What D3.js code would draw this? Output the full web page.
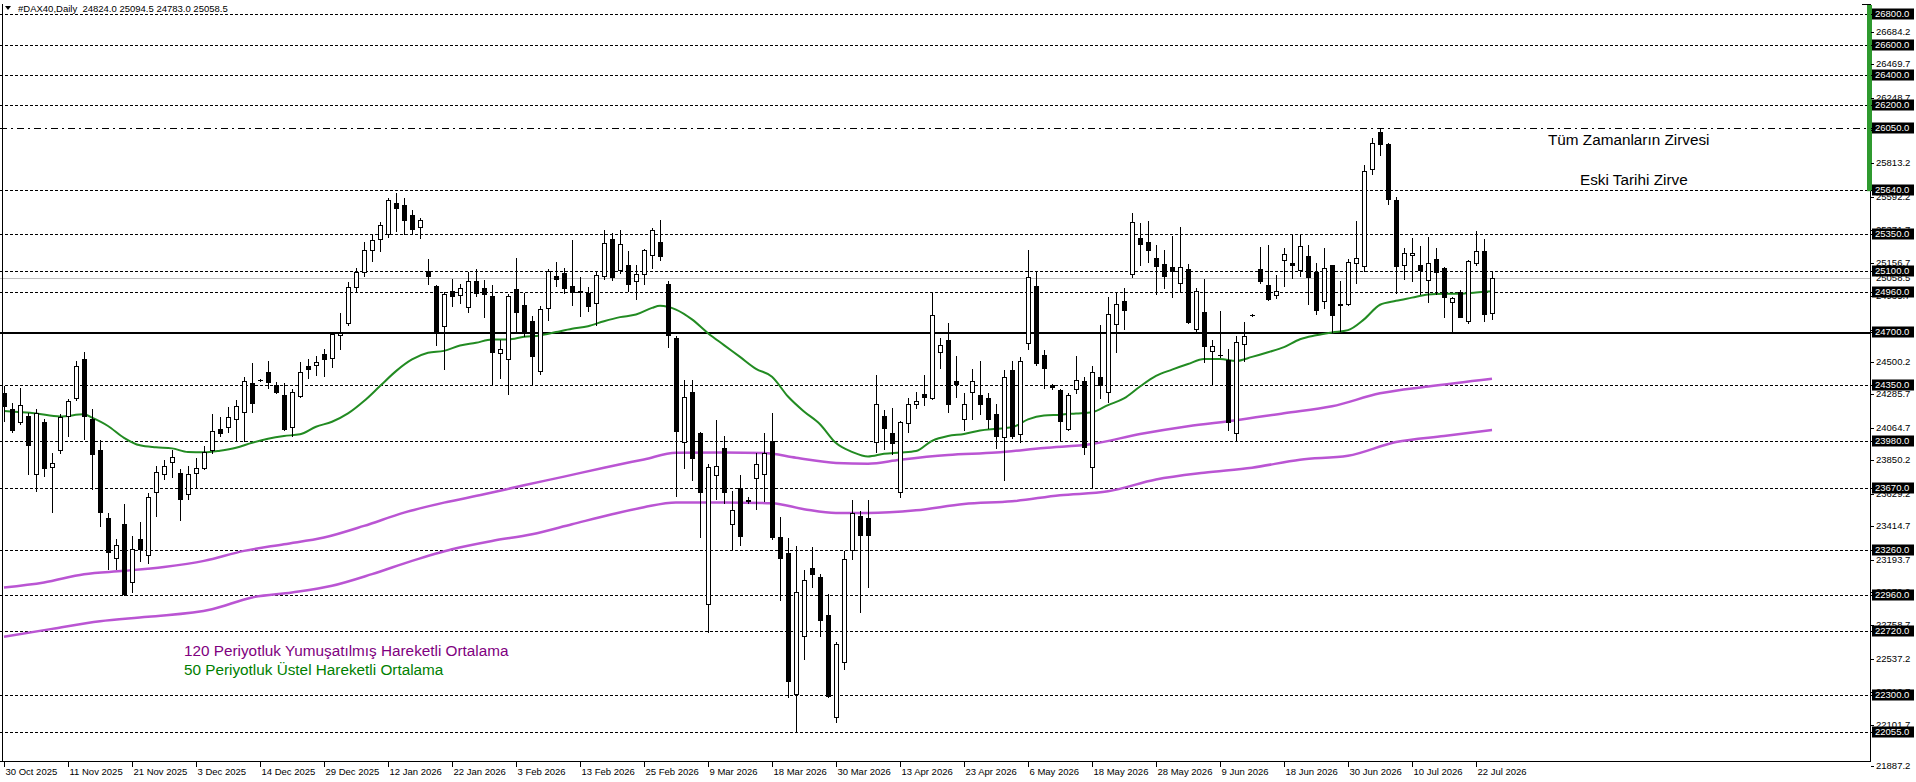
<!DOCTYPE html>
<html lang="tr">
<head>
<meta charset="UTF-8">
<title>#DAX40 Daily</title>
<style>
  html, body { margin: 0; padding: 0; background: #fff; }
  svg { display: block; font-family: "Liberation Sans", Arial, sans-serif; }
  .wick { stroke: #000; stroke-width: 1; }
  .body { stroke: #000; stroke-width: 1; shape-rendering: crispEdges; }
  .axis-txt { font-size: 9.5px; fill: #000; }
  .note { font-size: 15.3px; }
</style>
</head>
<body>
<svg width="1916" height="782"></svg>
<script src="https://d3js.org/d3.v7.min.js"></script>
<script>
// daily candles, 30 Oct 2025 .. 24 Jul 2026
const opens = [24292,24191,24103,24143,23757,24103,23808,23918,24143,24264,
24521,24121,23916,23471,23207,23427,23042,23328,23227,23641,
23762,23841,23768,23625,23768,23801,23918,24059,24072,24121,
24169,24363,24380,24436,24345,24279,24068,24275,24477,24482,
24550,24528,24676,24759,24997,25098,25244,25314,25349,25552,
25541,25475,25393,25103,25006,24737,24968,24946,24865,25039,
24988,24940,24561,24521,24984,24878,24772,24440,24860,25072,
25092,25006,24973,24957,24891,25067,25314,25109,25142,25039,
25083,25208,25296,25017,24660,23971,24304,24032,22900,23755,
23932,23430,23666,23579,23736,23762,23979,23344,23240,22306,
22690,23140,23075,22826,22149,22515,23258,23480,23467,23972,
24141,24029,23640,24094,24220,24290,24259,24565,24646,24377,
24121,24304,24285,24259,24155,24003,24450,24024,24625,25004,
24547,24345,24317,24058,24324,24377,23807,24403,24304,24751,
24905,25083,25323,25292,25187,25148,25127,25025,25114,24717,
24834,24573,24547,24513,24032,24617,24811,25114,25009,24944,
25174,25156,25109,25200,25096,24905,25140,24886,24886,25156,
25135,25775,26024,25940,25572,25140,25208,25140,25043,25182,
25122,24894,24960,24774,25156,25234,24824];
const highs = [24341,24231,24330,24165,24187,24121,23900,24154,24257,24506,
24568,24187,23984,23504,23328,23559,23350,23442,23632,23812,
23852,23916,23790,23812,23865,23945,24154,24138,24202,24248,
24400,24491,24389,24508,24369,24363,24319,24499,24521,24539,
24587,24693,24825,25028,25123,25297,25349,25424,25585,25615,
25585,25508,25453,25182,25012,24962,25050,25019,25094,25116,
25045,25012,24649,24953,25189,24957,24803,24869,25116,25160,
25123,25310,25061,24997,25101,25371,25354,25376,25233,25145,
25248,25387,25442,25034,24671,24382,24382,24037,23828,24115,
24011,23645,23754,23605,23898,24032,24162,23475,23336,23284,
23122,23279,23096,22965,22651,23253,23587,23514,23587,24416,
24181,24199,24110,24264,24304,24416,24965,24659,24756,24539,
24298,24455,24507,24298,24220,24450,24507,24534,25240,25096,
24578,24356,24324,24298,24539,24403,24476,24743,24931,24965,
24991,25488,25417,25436,25271,25240,25331,25396,25148,24991,
25051,24643,24840,24586,24670,24764,24821,25260,25271,25077,
25253,25344,25349,25271,25156,25253,25145,25036,25182,25436,
25802,25985,26050,25951,25592,25253,25323,25266,25328,25253,
25130,24931,24978,25174,25365,25313,25094.5];
const lows = [24110,24037,24088,23757,23647,23746,23509,23900,24011,24248,
23989,23658,23416,23130,23130,22958,22976,23185,23174,23482,
23729,23742,23456,23597,23669,23790,23900,24011,24037,23984,
23978,24169,24376,24330,24292,24050,24011,24270,24396,24414,
24407,24466,24583,24746,24968,25072,25167,25233,25325,25365,
25347,25354,25319,25019,24616,24451,24869,24891,24830,24940,
24797,24350,24396,24290,24693,24671,24350,24418,24781,25001,
24957,24880,24803,24836,24748,25050,25041,25090,24968,24918,
25019,25123,25178,24601,23614,23802,23723,23344,22717,23592,
23566,23258,23292,23566,23527,23579,23331,22926,22285,22055,
22534,23012,22690,22285,22120,22473,23195,22847,23009,23906,
23927,23893,23606,24037,24194,24215,24256,24460,24168,24272,
24050,24121,24155,24063,23932,23718,23998,23972,24586,24481,
24330,24324,23979,24050,24298,23893,23671,24259,24233,24565,
24717,25062,25140,25161,24947,24991,24931,24973,24756,24690,
24502,24351,24534,24050,23979,24507,24806,25025,24913,24926,
25004,25056,25070,24887,24821,24860,24698,24704,24879,25025,
25104,25742,25872,25548,24957,25051,25036,24952,24894,24952,
24795,24704,24795,24756,25140,24774,24783];
const closes = [24209,24050,24213,23949,24160,23801,23830,24134,24240,24477,
24143,23889,23509,23244,23293,22965,23262,23266,23610,23773,
23815,23874,23592,23757,23801,23905,24046,24033,24136,24209,
24374,24231,24383,24367,24303,24055,24301,24436,24455,24497,
24521,24687,24689,24997,25094,25241,25308,25407,25572,25519,
25437,25380,25437,25072,24693,24953,24940,24990,25037,24957,
24951,24565,24587,24935,24830,24693,24539,24852,25103,25050,
24988,24962,24962,24869,25076,25288,25061,25281,25017,25083,
25241,25374,25200,24676,24044,24272,23867,23639,23807,23815,
23639,23522,23349,23585,23828,23901,23344,23205,22390,22978,
23056,23101,22795,22290,22633,23200,23501,23357,23357,24225,
24063,23966,24102,24220,24241,24267,24813,24612,24220,24356,
24225,24377,24225,24121,24011,24403,24011,24507,25062,24494,
24460,24335,24110,24285,24382,23937,24434,24351,24816,24887,
24842,25428,25284,25240,25135,25070,25104,25130,24764,24973,
24607,24607,24549,24102,24633,24670,24813,25036,24918,24970,
25213,25145,25266,25062,24847,25122,24808,24879,25161,25187,
25762,25951,25945,25579,25135,25224,25221,25109,25156,25096,
24931,24926,24800,25166,25232,24821,25058.5];

// indicator values read at sample bars: [bar index, price]
const ema50 = [[0,24176],[4,24160],[7,24140],[10,24154],[11,24132],[13,24077],[15,23999],[17,23949],[19,23936],[21,23929],[23,23905],[25,23903],[27,23914],[29,23933],[31,23966],[33,23993],[35,24011],[37,24022],[39,24072],[41,24105],[43,24160],[45,24242],[47,24341],[49,24440],[51,24517],[53,24561],[55,24574],[57,24609],[59,24627],[61,24649],[63,24649],[65,24667],[67,24676],[69,24698],[71,24720],[73,24737],[75,24770],[77,24797],[79,24814],[81,24858],[82,24872],[84,24847],[86,24782],[88,24691],[90,24612],[92,24534],[94,24455],[96,24403],[98,24272],[100,24173],[102,24089],[104,23964],[106,23906],[108,23875],[110,23893],[112,23901],[114,23911],[116,23979],[118,24011],[120,24024],[122,24047],[124,24058],[126,24068],[128,24121],[130,24147],[132,24152],[134,24160],[136,24168],[138,24215],[140,24259],[142,24338],[144,24408],[146,24450],[148,24487],[150,24520],[152,24520],[154,24507],[156,24534],[158,24565],[160,24599],[162,24651],[164,24677],[166,24696],[168,24711],[170,24782],[172,24879],[174,24905],[176,24926],[178,24947],[180,24952],[182,24952],[184,24960],[186,24968]];
const smmaUpper = [[0,23009],[5,23042],[10,23097],[15,23119],[20,23145],[25,23185],[30,23251],[35,23295],[40,23339],[45,23416],[50,23504],[55,23570],[60,23625],[65,23685],[70,23742],[75,23801],[80,23856],[84,23900],[90,23901],[95,23898],[99,23867],[104,23833],[108,23828],[112,23854],[118,23885],[124,23901],[130,23932],[136,23958],[142,24024],[148,24076],[154,24115],[160,24162],[166,24207],[172,24293],[178,24338],[186,24390]];
const smmaLower = [[0,22683],[6,22735],[12,22785],[18,22815],[26,22865],[31,22943],[36,22976],[41,23020],[46,23097],[51,23185],[56,23262],[61,23317],[66,23361],[71,23427],[76,23493],[80,23540],[84,23571],[90,23571],[96,23566],[100,23527],[104,23501],[108,23501],[114,23519],[120,23561],[126,23579],[132,23619],[138,23645],[144,23723],[150,23768],[156,23801],[162,23854],[168,23880],[174,23971],[180,24011],[186,24050]];

// x axis labels every 8 bars
const dateLabels = ["30 Oct 2025","11 Nov 2025","21 Nov 2025","3 Dec 2025","14 Dec 2025","29 Dec 2025","12 Jan 2026","22 Jan 2026","3 Feb 2026","13 Feb 2026","25 Feb 2026","9 Mar 2026","18 Mar 2026","30 Mar 2026","13 Apr 2026","23 Apr 2026","6 May 2026","18 May 2026","28 May 2026","9 Jun 2026","18 Jun 2026","30 Jun 2026","10 Jul 2026","22 Jul 2026"];
// price scale labels
const scaleTicks = [26684.2,26469.7,26248.7,26035.2,25813.2,25592.2,25371.7,25156.7,24935.7,24714.7,24500.2,24285.7,24064.7,23850.2,23629.2,23414.7,23193.7,22979.2,22758.7,22537.2,22316.7,22101.7,21887.2];
// horizontal levels drawn on the chart
const levels = [26800,26600,26400,26200,26050,25640,25350,25100,24960,24700,24350,23980,23670,23260,22960,22720,22300,22055];
const athLevel = 26050, supportLevel = 24700;
const bidPrice = 25058.5;
const header = "#DAX40,Daily  24824.0 25094.5 24783.0 25058.5";

const W = 1916, H = 782;
const plotRight = 1870, plotBottom = 761;

const svg = d3.select("svg");
svg.append("rect").attr("width", W).attr("height", H).attr("fill", "#fff");

const x = d3.scaleLinear().domain([0, 186]).range([4, 1492]);
const y = d3.scaleLinear().domain([26800, 22055]).range([14.3, 731.7]);
const px = i => Math.round(x(i));

svg.append("clipPath").attr("id", "plot")
  .append("rect").attr("x", 0).attr("y", 0).attr("width", plotRight).attr("height", plotBottom);
const g = svg.append("g").attr("clip-path", "url(#plot)");

// levels
levels.forEach(v => {
  const yy = Math.round(y(v)) + 0.5;
  const ln = g.append("line").attr("x1", 0).attr("x2", plotRight).attr("y1", yy).attr("y2", yy)
    .attr("stroke", "#000").attr("shape-rendering", "crispEdges");
  if (v === supportLevel) ln.attr("stroke-width", 2);
  else if (v === athLevel) ln.attr("stroke-width", 1).attr("stroke-dasharray", "7,4,2,4");
  else ln.attr("stroke-width", 1).attr("stroke-dasharray", "3,2");
});

// bid line
const by = Math.round(y(bidPrice)) + 0.5;
g.append("line").attr("x1", 0).attr("x2", plotRight).attr("y1", by).attr("y2", by)
  .attr("stroke", "#c0c0c0").attr("stroke-width", 1);

// moving averages
const maLine = d3.line().x(d => x(d[0])).y(d => y(d[1])).curve(d3.curveMonotoneX);
g.append("path").datum(smmaLower).attr("d", maLine).attr("fill", "none")
  .attr("stroke", "#BA55D3").attr("stroke-width", 2.5);
g.append("path").datum(smmaUpper).attr("d", maLine).attr("fill", "none")
  .attr("stroke", "#BA55D3").attr("stroke-width", 2.5);
g.append("path").datum(ema50).attr("d", maLine).attr("fill", "none")
  .attr("stroke", "#228B22").attr("stroke-width", 2);

// candles
const bars = d3.range(opens.length).map(i => ({ i, o: opens[i], h: highs[i], l: lows[i], c: closes[i] }));
const cg = g.append("g");
cg.selectAll("line.wick").data(bars).enter().append("line")
  .attr("class", "wick")
  .attr("x1", d => px(d.i) + 0.5).attr("x2", d => px(d.i) + 0.5)
  .attr("y1", d => Math.round(y(d.h))).attr("y2", d => Math.round(y(d.l)) + 1);
cg.selectAll("rect.body").data(bars).enter().append("rect")
  .attr("class", "body")
  .attr("x", d => px(d.i) - 1.5)
  .attr("width", 4)
  .attr("y", d => Math.round(y(Math.max(d.o, d.c))) + 0.5)
  .attr("height", d => Math.max(0.01, Math.round(y(Math.min(d.o, d.c))) - Math.round(y(Math.max(d.o, d.c)))))
  .attr("fill", d => d.c >= d.o ? "#fff" : "#000");

// frame
svg.append("line").attr("x1", 2.5).attr("x2", 2.5).attr("y1", 4).attr("y2", plotBottom)
  .attr("stroke", "#000");
svg.append("line").attr("x1", plotRight + 0.5).attr("x2", plotRight + 0.5).attr("y1", 4).attr("y2", plotBottom + 1)
  .attr("stroke", "#000");
svg.append("line").attr("x1", 0).attr("x2", plotRight + 1).attr("y1", plotBottom + 0.5).attr("y2", plotBottom + 0.5)
  .attr("stroke", "#000");
svg.append("line").attr("x1", plotRight - 8).attr("x2", plotRight + 1).attr("y1", 4.5).attr("y2", 4.5)
  .attr("stroke", "#000");

// green marker on the price scale
svg.append("rect").attr("x", plotRight - 3).attr("y", 5).attr("width", 5)
  .attr("height", y(25640) + 1.5 - 5).attr("fill", "#2f9a2f");

// price scale labels
const ax = svg.append("g").attr("class", "axis-txt");
scaleTicks.forEach(v => {
  const yy = Math.round(y(v));
  const ty = yy > plotBottom - 8 ? plotBottom + 5 : yy;
  ax.append("line").attr("x1", plotRight + 1).attr("x2", plotRight + 4).attr("y1", ty + 0.5).attr("y2", ty + 0.5)
    .attr("stroke", "#000");
  ax.append("text").attr("x", plotRight + 6).attr("y", ty).attr("dy", "0.35em").text(v.toFixed(1));
});
// bid label
ax.append("text").attr("x", plotRight + 6).attr("y", Math.round(y(bidPrice))).attr("dy", "0.35em")
  .text(bidPrice.toFixed(1));
// highlighted level labels
levels.forEach(v => {
  const yy = Math.round(y(v));
  ax.append("line").attr("x1", plotRight + 1).attr("x2", plotRight + 3).attr("y1", yy + 0.5).attr("y2", yy + 0.5)
    .attr("stroke", "#000");
  ax.append("rect").attr("x", plotRight + 2).attr("y", yy - 5.5).attr("width", 42).attr("height", 11)
    .attr("fill", "#000");
  ax.append("text").attr("x", plotRight + 5).attr("y", yy).attr("dy", "0.35em").attr("fill", "#fff")
    .text(v.toFixed(1));
});

// time axis
const tg = svg.append("g").attr("class", "axis-txt");
dateLabels.forEach((lab, k) => {
  const xx = px(k * 8) + 0.5;
  tg.append("line").attr("x1", xx).attr("x2", xx).attr("y1", plotBottom).attr("y2", plotBottom + 6)
    .attr("stroke", "#000");
  tg.append("text").attr("x", xx + 1).attr("y", plotBottom + 14).text(lab);
});

// header
svg.append("path").attr("d", "M5,6 L11,6 L8,10 Z").attr("fill", "#000");
svg.append("text").attr("class", "axis-txt").attr("x", 18).attr("y", 12).attr("xml:space", "preserve")
  .style("white-space", "pre").text(header);

// annotations
svg.append("text").attr("class", "note").attr("x", 1548).attr("y", 145).attr("fill", "#000")
  .text("Tüm Zamanların Zirvesi");
svg.append("text").attr("class", "note").attr("x", 1580).attr("y", 185).attr("fill", "#000")
  .text("Eski Tarihi Zirve");
svg.append("text").attr("class", "note").attr("x", 184).attr("y", 656).attr("fill", "#800080")
  .text("120 Periyotluk Yumuşatılmış Hareketli Ortalama");
svg.append("text").attr("class", "note").attr("x", 184).attr("y", 675).attr("fill", "#008000")
  .text("50 Periyotluk Üstel Hareketli Ortalama");
</script>
</body>
</html>
